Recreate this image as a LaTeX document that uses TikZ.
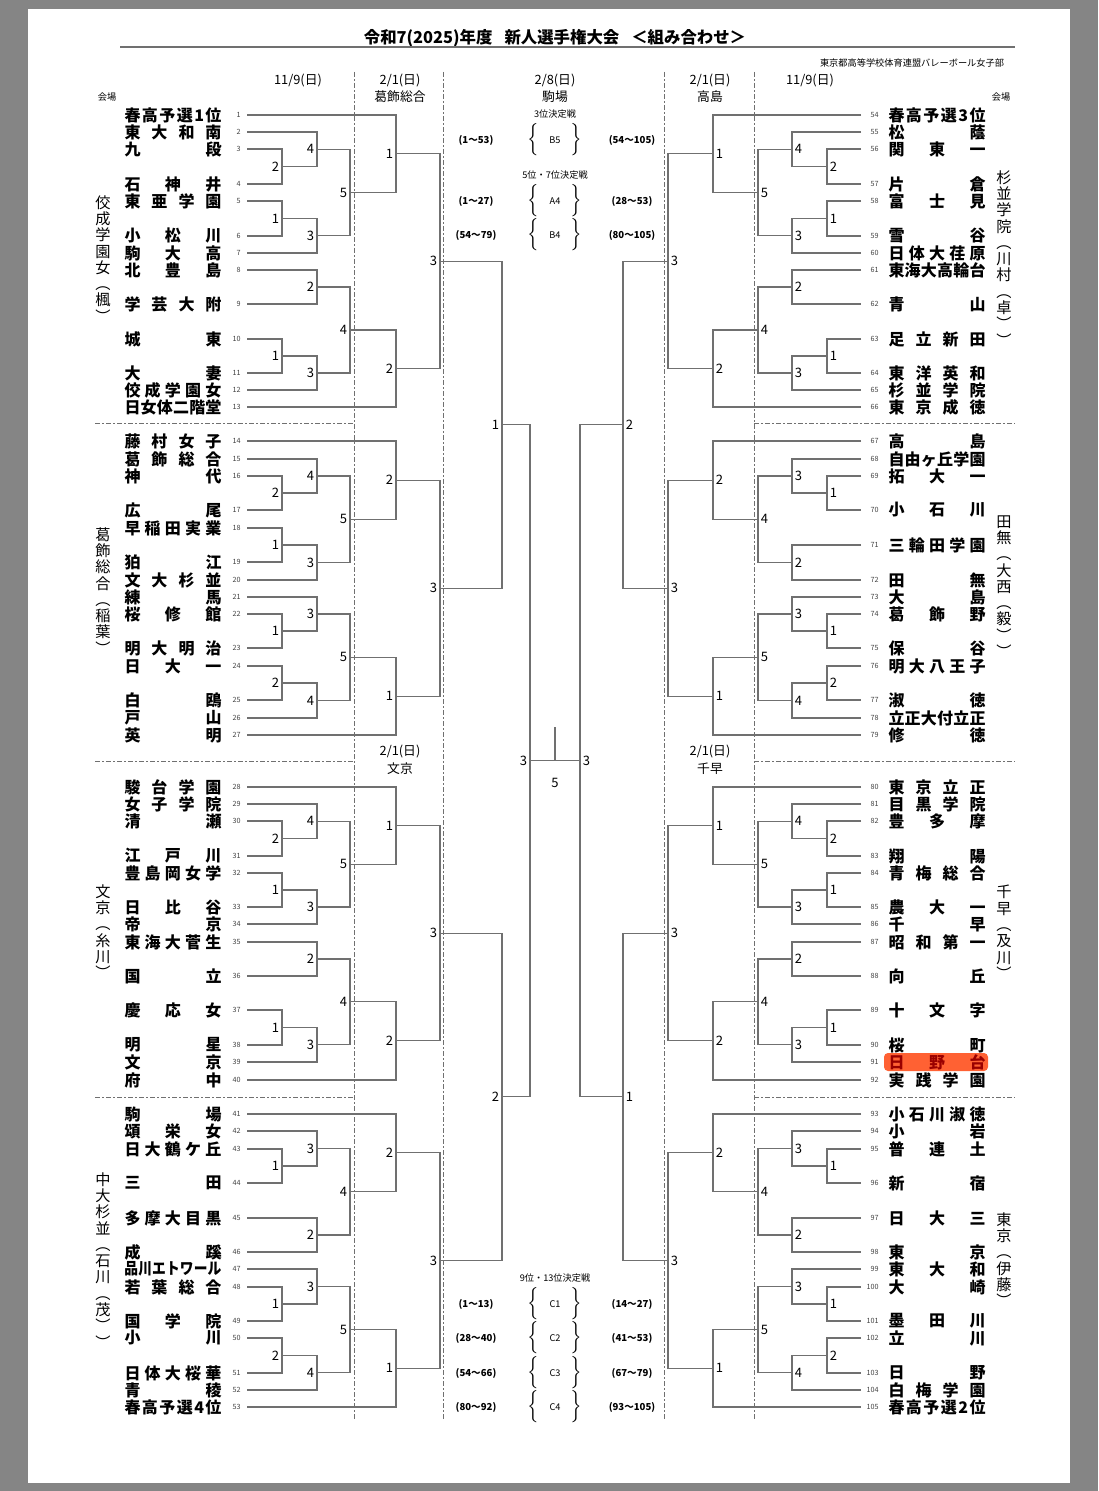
\documentclass[tikz,border=0pt]{standalone}
\usepackage{fontspec}
\setmainfont{Noto Sans CJK JP}
\usetikzlibrary{calc}
\definecolor{ln}{HTML}{707070}
\tikzset{
 br/.style={draw=ln,line width=0.55pt},
 ml/.style={font=\fontsize{6.5}{6.5}\selectfont,inner sep=1.2pt},
 nm/.style={font=\fontsize{8}{8}\selectfont\bfseries,inner sep=0pt},
 num/.style={font=\fontsize{3.6}{3.6}\selectfont,inner sep=0pt,text=black!75},
 hd/.style={font=\fontsize{6.4}{7}\selectfont,inner sep=0pt},
 sm/.style={font=\fontsize{4.6}{5}\selectfont,inner sep=0pt},
 rg/.style={font=\fontsize{4.8}{5}\selectfont\bfseries,inner sep=0pt},
 vt/.style={font=\fontsize{7.6}{8.15}\selectfont,inner sep=0pt,align=center,anchor=north},
 sep/.style={draw=ln,line width=0.5pt,dash pattern=on 2.5pt off 1.2pt on 0.6pt off 1.2pt},
}
\def\lside{east}
\newcommand\mX[5]{\coordinate (v) at (#2,0);
 \draw[br] (#3) -- (#3 -| v) -- (#4 -| v) -- (#4);
 \coordinate (#1) at ($(#3 -| v)!0.5!(#4 -| v)$);
 \node[ml,anchor=\lside] (#1l) at (#1) {#5};}
\newcommand\setT[1]{%
 \pgfmathtruncatemacro\ta{#1+1}\pgfmathtruncatemacro\tb{#1+2}\pgfmathtruncatemacro\tc{#1+3}%
 \pgfmathtruncatemacro\td{#1+4}\pgfmathtruncatemacro\te{#1+5}\pgfmathtruncatemacro\tf{#1+6}%
 \pgfmathtruncatemacro\tg{#1+7}\pgfmathtruncatemacro\th{#1+8}\pgfmathtruncatemacro\ti{#1+9}%
 \pgfmathtruncatemacro\tj{#1+10}\pgfmathtruncatemacro\tk{#1+11}\pgfmathtruncatemacro\tl{#1+12}%
 \pgfmathtruncatemacro\tm{#1+13}\pgfmathtruncatemacro\tn{#1+14}}
\newcommand\PA[2]{\setT{#2}%
 \mX{#1a2}{\xa}{t\tc}{t\td}{2}
 \mX{#1a4}{\xb}{t\tb}{#1a2}{4}
 \mX{#1a1}{\xa}{t\te}{t\tf}{1}
 \mX{#1a3}{\xb}{#1a1}{t\tg}{3}
 \mX{#1a5}{\xc}{#1a4}{#1a3}{5}
 \mX{#1b2}{\xb}{t\th}{t\ti}{2}
 \mX{#1b1}{\xa}{t\tj}{t\tk}{1}
 \mX{#1b3}{\xb}{#1b1}{t\tl}{3}
 \mX{#1b4}{\xc}{#1b2}{#1b3}{4}
 \mX{#1c1}{\xd}{t\ta}{#1a5}{1}
 \mX{#1c2}{\xd}{#1b4}{t\tm}{2}
 \mX{#1}{\xe}{#1c1}{#1c2}{3}}
\newcommand\PB[2]{\setT{#2}%
 \mX{#1a2}{\xa}{t\tc}{t\td}{2}
 \mX{#1a4}{\xb}{t\tb}{#1a2}{4}
 \mX{#1a1}{\xa}{t\te}{t\tf}{1}
 \mX{#1a3}{\xb}{#1a1}{t\tg}{3}
 \mX{#1a5}{\xc}{#1a4}{#1a3}{5}
 \mX{#1c2}{\xd}{t\ta}{#1a5}{2}
 \mX{#1b1}{\xa}{t\ti}{t\tj}{1}
 \mX{#1b3}{\xb}{t\th}{#1b1}{3}
 \mX{#1b2}{\xa}{t\tk}{t\tl}{2}
 \mX{#1b4}{\xb}{#1b2}{t\tm}{4}
 \mX{#1b5}{\xc}{#1b3}{#1b4}{5}
 \mX{#1c1}{\xd}{#1b5}{t\tn}{1}
 \mX{#1}{\xe}{#1c2}{#1c1}{3}}
\newcommand\PD[2]{\setT{#2}%
 \mX{#1a1}{\xa}{t\tc}{t\td}{1}
 \mX{#1a3}{\xb}{t\tb}{#1a1}{3}
 \mX{#1a2}{\xb}{t\te}{t\tf}{2}
 \mX{#1a4}{\xc}{#1a3}{#1a2}{4}
 \mX{#1c2}{\xd}{t\ta}{#1a4}{2}
 \mX{#1b1}{\xa}{t\th}{t\ti}{1}
 \mX{#1b3}{\xb}{t\tg}{#1b1}{3}
 \mX{#1b2}{\xa}{t\tj}{t\tk}{2}
 \mX{#1b4}{\xb}{#1b2}{t\tl}{4}
 \mX{#1b5}{\xc}{#1b3}{#1b4}{5}
 \mX{#1c1}{\xd}{#1b5}{t\tm}{1}
 \mX{#1}{\xe}{#1c2}{#1c1}{3}}
\newcommand\brc[1]{\scalebox{1}[1.35]{$\left\{\rule[-3pt]{0pt}{7pt}\right.$}\hspace{4pt}#1\hspace{4pt}\scalebox{1}[1.35]{$\left.\rule[-3pt]{0pt}{7pt}\right\}$}}
\newcommand\J[2]{\makebox[#1][s]{\spaceskip=0pt plus 1fil\relax #2}}
\begin{document}
\begin{tikzpicture}[x=0.5pt,y=-0.5pt]
\fill[black!48] (0,0) rectangle (1098,1491);
\fill[white] (28,9) rectangle (1070,1483);
\useasboundingbox (0,0) rectangle (1098,1491);
% header
\node[font=\fontsize{8.2}{9}\selectfont\bfseries,inner sep=0pt] (title) at (555,38) {令和7(2025)年度\hspace{6pt}新人選手権大会\hspace{6pt}＜組み合わせ＞};
\draw[ln,line width=0.6pt] (120,47) -- (1015,47);
\node[sm] (org) at (912,63) {東京都高等学校体育連盟バレーボール女子部};
\node[hd] (h1) at (298,81) {11/9(日)};
\node[hd] (h2) at (400,81) {2/1(日)};
\node[hd] (h2b) at (400,97) {葛飾総合};
\node[hd] (h3) at (555,81) {2/8(日)};
\node[hd] (h3b) at (555,97) {駒場};
\node[hd] (h4) at (710,81) {2/1(日)};
\node[hd] (h4b) at (710,97) {高島};
\node[hd] (h5) at (810,81) {11/9(日)};
\node[sm] (kj1) at (107,97) {会場};
\node[sm] (kj2) at (1001,97) {会場};
\node[sm] (p3) at (555,114) {3位決定戦};
\node[rg] (pa1) at (476,140) {(1～53)};
\node[sm] (pb1) at (555,140) {\brc{B5}};
\node[rg] (pc1) at (632,140) {(54～105)};
\node[sm] (p5) at (555,175) {5位・7位決定戦};
\node[rg] (pa2) at (476,201) {(1～27)};
\node[sm] (pb2) at (555,201) {\brc{A4}};
\node[rg] (pc2) at (632,201) {(28～53)};
\node[rg] (pa3) at (476,235) {(54～79)};
\node[sm] (pb3) at (555,235) {\brc{B4}};
\node[rg] (pc3) at (632,235) {(80～105)};
\node[hd] (m1) at (400,752) {2/1(日)};
\node[hd] (m1b) at (400,769) {文京};
\node[hd] (m2) at (710,752) {2/1(日)};
\node[hd] (m2b) at (710,769) {千早};
\node[sm] (p9) at (555,1278) {9位・13位決定戦};
\foreach \i/\y/\a/\b in {1/1304/(1～13)/(14～27),2/1338/(28～40)/(41～53),3/1373/(54～66)/(67～79),4/1407/(80～92)/(93～105)}{
 \node[rg] (ca\i) at (476,\y) {\a};
 \node[sm] (cb\i) at (555,\y) {\brc{C\i}};
 \node[rg] (cc\i) at (632,\y) {\b};}
% separators
\draw[sep] (354,72) -- (354,1420);
\draw[sep] (443,72) -- (443,1420);
\draw[sep] (664,72) -- (664,1420);
\draw[sep] (754,72) -- (754,1420);
\foreach \y in {424,761,1097}{
 \draw[sep] (95,\y) -- (354,\y);
 \draw[sep] (754,\y) -- (1015,\y);}
% highlight
\fill[red!55!orange!80,rounded corners=2pt] (884,1053) rectangle (988,1071);
% venue labels
\node[vt] (v1) at (103,195) {佼\\成\\学\\園\\女\\︵\\楓\\︶};
\node[vt] (v2) at (103,527) {葛\\飾\\総\\合\\︵\\稲\\葉\\︶};
\node[vt] (v3) at (103,884) {文\\京\\︵\\糸\\川\\︶};
\node[vt] (v4) at (103,1172) {中\\大\\杉\\並\\︵\\石\\川\\︵\\茂\\︶\\︶};
\node[vt] (v5) at (1004,170) {杉\\並\\学\\院\\︵\\川\\村\\︵\\卓\\︶\\︶};
\node[vt] (v6) at (1004,515) {田\\無\\︵\\大\\西\\︵\\毅\\︶\\︶};
\node[vt] (v7) at (1004,885) {千\\早\\︵\\及\\川\\︶};
\node[vt] (v8) at (1004,1212) {東\\京\\︵\\伊\\藤\\︶};
% left teams
\foreach \n/\y/\s in {1/115/春 高 予 選 1 位,2/132/東 大 和 南,3/149/九 段,4/184/石 神 井,5/201/東 亜 学 園,6/236/小 松 川,7/253/駒 大 高,8/270/北 豊 島,9/304/学 芸 大 附,10/339/城 東,11/373/大 妻,12/390/佼 成 学 園 女,13/407/日 女 体 二 階 堂,
14/441/藤 村 女 子,15/459/葛 飾 総 合,16/476/神 代,17/510/広 尾,18/528/早 稲 田 実 業,19/562/狛 江,20/580/文 大 杉 並,21/597/練 馬,22/614/桜 修 館,23/648/明 大 明 治,24/666/日 大 一,25/700/白 鴎,26/718/戸 山,27/735/英 明,
28/787/駿 台 学 園,29/804/女 子 学 院,30/821/清 瀬,31/856/江 戸 川,32/873/豊 島 岡 女 学,33/907/日 比 谷,34/924/帝 京,35/942/東 海 大 菅 生,36/976/国 立,37/1010/慶 応 女,38/1045/明 星,39/1062/文 京,40/1080/府 中,
41/1114/駒 場,42/1131/頌 栄 女,43/1149/日 大 鶴 ケ 丘,44/1183/三 田,45/1218/多 摩 大 目 黒,46/1252/成 蹊,47/1269/品 川 エ ト ワ ー ル,48/1287/若 葉 総 合,49/1321/国 学 院,50/1338/小 川,51/1373/日 体 大 桜 華,52/1390/青 稜,53/1407/春 高 予 選 4 位}{
 \coordinate (t\n) at (247,\y);
 \node[num,anchor=east] (n\n) at (241,\y) {\n};
 \ifnum\n=47
 \node[nm] (s\n) at (173,\y) {\scalebox{0.86}[1]{\J{56.4pt}{\s}}};
 \else
 \node[nm] (s\n) at (173,\y) {\J{48.5pt}{\s}};
 \fi}
% right teams
\foreach \n/\y/\s in {54/115/春 高 予 選 3 位,55/132/松 蔭,56/149/関 東 一,57/184/片 倉,58/201/富 士 見,59/236/雪 谷,60/253/日 体 大 荏 原,61/270/東 海 大 高 輪 台,62/304/青 山,63/339/足 立 新 田,64/373/東 洋 英 和,65/390/杉 並 学 院,66/407/東 京 成 徳,
67/441/高 島,68/459/自 由 ヶ 丘 学 園,69/476/拓 大 一,70/510/小 石 川,71/545/三 輪 田 学 園,72/580/田 無,73/597/大 島,74/614/葛 飾 野,75/648/保 谷,76/666/明 大 八 王 子,77/700/淑 徳,78/718/立 正 大 付 立 正,79/735/修 徳,
80/787/東 京 立 正,81/804/目 黒 学 院,82/821/豊 多 摩,83/856/翔 陽,84/873/青 梅 総 合,85/907/農 大 一,86/924/千 早,87/942/昭 和 第 一,88/976/向 丘,89/1010/十 文 字,90/1045/桜 町,91/1062/日 野 台,92/1080/実 践 学 園,
93/1114/小 石 川 淑 徳,94/1131/小 岩,95/1149/普 連 土,96/1183/新 宿,97/1218/日 大 三,98/1252/東 京,99/1269/東 大 和,100/1287/大 崎,101/1321/墨 田 川,102/1338/立 川,103/1373/日 野,104/1390/白 梅 学 園,105/1407/春 高 予 選 2 位}{
 \coordinate (t\n) at (861,\y);
 \node[num,anchor=east] (n\n) at (879,\y) {\n};
 \ifnum\n=91
 \node[nm,text=red!60!black] (s\n) at (937,\y) {\J{48.5pt}{\s}};
 \else
 \node[nm] (s\n) at (937,\y) {\J{48.5pt}{\s}};
 \fi}
% left brackets
\def\xa{282}\def\xb{317}\def\xc{350}\def\xd{396}\def\xe{440}\def\lside{east}
\PA{LA}{0}
\PB{LB}{13}
\PA{LC}{27}
\PD{LD}{40}
\mX{LS1}{502}{LA}{LB}{1}
\mX{LS2}{502}{LC}{LD}{2}
\mX{LF}{530}{LS1}{LS2}{3}
% right brackets
\def\xa{827}\def\xb{792}\def\xc{758}\def\xd{713}\def\xe{668}\def\lside{west}
\PA{RA}{53}
\PD{RB}{66}
\PA{RC}{79}
\PD{RD}{92}
\mX{RS2}{623}{RA}{RB}{2}
\mX{RS1}{623}{RC}{RD}{1}
\mX{RF}{580}{RS2}{RS1}{3}
% final
\draw[br] (LF) -- (RF);
\coordinate (fm) at ($(LF)!0.5!(RF)$);
\coordinate (ftop) at (555,727);
\draw[br] (fm) -- (ftop);
\node[ml] (f5) at (555,783) {5};
\end{tikzpicture}
\end{document}
